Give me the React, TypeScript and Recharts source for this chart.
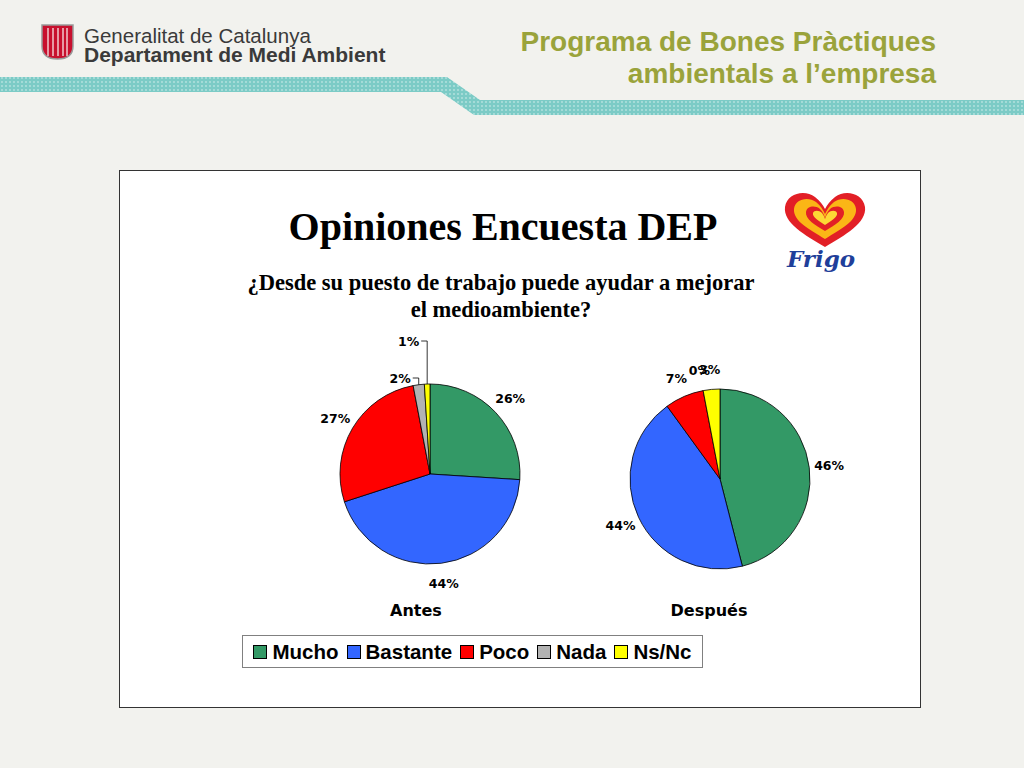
import React from "react";
import { Pie, PieChart, Cell } from "recharts";

const categories = ["Mucho", "Bastante", "Poco", "Nada", "Ns/Nc"];
const colors = ["#339966", "#3366FF", "#FF0000", "#B2B2B2", "#FFFF00"];
const antesValues = [26, 44, 27, 2, 1];
const despuesValues = [46, 44, 7, 0, 3];
const pieTitles = ["Antes", "Después"];

const antesData = categories.map((name, i) => ({ name, value: antesValues[i] }));
const despuesData = categories.map((name, i) => ({ name, value: despuesValues[i] }));

const RAD = Math.PI / 180;
const labelFont = "'DejaVu Sans', Verdana, sans-serif";

function renderLabel(props: any) {
  const { cx, cy, midAngle, outerRadius, percent, value, index } = props;
  const cos = Math.cos(-midAngle * RAD);
  const sin = Math.sin(-midAngle * RAD);
  if (value > 0 && percent < 0.025) {
    // tiny slices: label pulled up with a leader line
    const sx = cx + outerRadius * cos;
    const sy = cy + outerRadius * sin;
    const rise = percent < 0.015 ? 43 : 6;
    const ey = cy - outerRadius - rise;
    const ex = sx - 6;
    return (
      <g key={`l-${index}`}>
        <polyline
          points={`${sx},${sy} ${sx},${ey} ${ex},${ey}`}
          fill="none"
          stroke="#000"
          strokeWidth={0.8}
        />
        <text
          x={ex - 2}
          y={ey}
          textAnchor="end"
          dominantBaseline="central"
          fontFamily={labelFont}
          fontWeight="bold"
          fontSize={12.5}
          fill="#000"
        >
          {value}%
        </text>
      </g>
    );
  }
  const r = outerRadius + 20;
  return (
    <text
      key={`l-${index}`}
      x={cx + r * cos}
      y={cy + r * sin}
      textAnchor="middle"
      dominantBaseline="central"
      fontFamily={labelFont}
      fontWeight="bold"
      fontSize={12.5}
      fill="#000"
    >
      {value}%
    </text>
  );
}

function Header() {
  return (
    <svg width={1024} height={130} style={{ position: "absolute", left: 0, top: 0 }}>
      <defs>
        <pattern id="dots" width="4" height="4" patternUnits="userSpaceOnUse">
          <rect width="4" height="4" fill="#7CCBC6" />
          <circle cx="2" cy="2" r="0.9" fill="#B8E3E0" />
        </pattern>
      </defs>
      <polygon
        points="0,77 447,77 480,100 1024,100 1024,115 474,115 441,92 0,92"
        fill="url(#dots)"
      />
      {/* Generalitat logo */}
      <path
        d="M42 25 H73 V46 Q73 59 57.5 59 Q42 59 42 46 Z"
        fill="#C8102E"
        stroke="#9A9A9A"
        strokeWidth={1.5}
      />
      {[48, 53, 58, 63, 67].map((x) => (
        <line key={x} x1={x} y1={28} x2={x} y2={56} stroke="#F1C9CE" strokeWidth={1.5} />
      ))}
      <text x={84} y={43} fontFamily="'Liberation Sans', Arial, sans-serif" fontSize={20.5} fill="#3a3a3a">
        Generalitat de Catalunya
      </text>
      <text x={84} y={62} fontFamily="'Liberation Sans', Arial, sans-serif" fontSize={21} fontWeight="bold" fill="#3a3a3a">
        Departament de Medi Ambient
      </text>
      <text
        x={936}
        y={51}
        textAnchor="end"
        fontFamily="'Liberation Sans', Arial, sans-serif"
        fontSize={28}
        fontWeight="bold"
        fill="#9AA33B"
      >
        Programa de Bones Pràctiques
      </text>
      <text
        x={936}
        y={83}
        textAnchor="end"
        fontFamily="'Liberation Sans', Arial, sans-serif"
        fontSize={28}
        fontWeight="bold"
        fill="#9AA33B"
      >
        ambientals a l’empresa
      </text>
    </svg>
  );
}

function FrigoLogo() {
  return (
    <svg width={100} height={95} style={{ position: "absolute", left: 655, top: 14 }}>
      <path
        d="M50 62 C30 50 8 38 10 22 C12 8 30 4 40 12 C45 16 48 20 50 24 C52 20 55 16 60 12 C70 4 88 8 90 22 C92 38 70 50 50 62 Z"
        fill="#E21F26"
      />
      <path
        d="M50 54 C34 44 18 36 19 24 C20 14 33 11 41 17 C46 21 48 25 50 29 C52 25 54 21 59 17 C67 11 80 14 81 24 C82 36 66 44 50 54 Z"
        fill="#FBB616"
      />
      <path
        d="M50 46 C40 40 30 34 31 27 C32 21 40 20 45 24 C48 27 49 30 50 33 C51 30 52 27 55 24 C60 20 68 21 69 27 C70 34 60 40 50 46 Z"
        fill="#E21F26"
      />
      <path
        d="M50 40 C44 36 37 32 38 28 C39 25 44 25 47 28 C48.5 30 49.5 32 50 34 C50.5 32 51.5 30 53 28 C56 25 61 25 62 28 C63 32 56 36 50 40 Z"
        fill="#FDD835"
      />
      <text
        x={46}
        y={82}
        textAnchor="middle"
        fontFamily="'DejaVu Serif', serif"
        fontStyle="italic"
        fontWeight="bold"
        fontSize={23}
        fill="#1F3F9A"
      >
        Frigo
      </text>
    </svg>
  );
}

export default function App() {
  return (
    <div
      style={{
        position: "fixed",
        left: 0,
        top: 0,
        width: 1024,
        height: 768,
        background: "#F2F2EE",
        overflow: "hidden",
      }}
    >
      <Header />
      <div
        style={{
          position: "absolute",
          left: 119,
          top: 170,
          width: 800,
          height: 536,
          background: "#fff",
          border: "1px solid #333",
        }}
      >
        <FrigoLogo />
        <div
          style={{
            position: "absolute",
            left: 0,
            top: 33,
            width: 766,
            textAlign: "center",
            fontFamily: "'Liberation Serif', 'Times New Roman', serif",
            fontWeight: "bold",
            fontSize: 40,
            lineHeight: "46px",
            color: "#000",
          }}
        >
          Opiniones Encuesta DEP
        </div>
        <div
          style={{
            position: "absolute",
            left: 0,
            top: 98,
            width: 762,
            textAlign: "center",
            fontFamily: "'Liberation Serif', 'Times New Roman', serif",
            fontWeight: "bold",
            fontSize: 22.5,
            lineHeight: "27px",
            color: "#000",
          }}
        >
          ¿Desde su puesto de trabajo puede ayudar a mejorar
          <br />
          el medioambiente?
        </div>
        <PieChart width={800} height={440} style={{ position: "absolute", left: 0, top: 0 }}>
          <Pie
            data={antesData}
            dataKey="value"
            nameKey="name"
            cx={305}
            cy={298}
            outerRadius={90}
            startAngle={90}
            endAngle={-270}
            stroke="#000"
            strokeWidth={0.8}
            label={renderLabel}
            labelLine={false}
            isAnimationActive={false}
          >
            {antesData.map((d, i) => (
              <Cell key={d.name} fill={colors[i]} />
            ))}
          </Pie>
          <Pie
            data={despuesData}
            dataKey="value"
            nameKey="name"
            cx={595}
            cy={303}
            outerRadius={90}
            startAngle={90}
            endAngle={-270}
            stroke="#000"
            strokeWidth={0.8}
            label={renderLabel}
            labelLine={false}
            isAnimationActive={false}
          >
            {despuesData.map((d, i) => (
              <Cell key={d.name} fill={colors[i]} />
            ))}
          </Pie>
        </PieChart>
        {pieTitles.map((t, i) => (
          <div
            key={t}
            style={{
              position: "absolute",
              left: i === 0 ? 246 : 539,
              top: 430,
              width: 100,
              textAlign: "center",
              fontFamily: labelFont,
              fontWeight: "bold",
              fontSize: 16,
              color: "#000",
            }}
          >
            {t}
          </div>
        ))}
        <div
          style={{
            position: "absolute",
            left: 122,
            top: 464,
            height: 31,
            width: 459,
            border: "1px solid #808080",
            display: "flex",
            alignItems: "center",
            justifyContent: "center",
            gap: 8,
            fontFamily: "'Liberation Sans', Arial, sans-serif",
            fontWeight: "bold",
            fontSize: 20.5,
            color: "#000",
          }}
        >
          {categories.map((c, i) => (
            <div key={c} style={{ display: "flex", alignItems: "center", gap: 5 }}>
              <span
                style={{
                  display: "inline-block",
                  width: 12,
                  height: 12,
                  background: colors[i],
                  border: "1px solid #000",
                }}
              />
              <span>{c}</span>
            </div>
          ))}
        </div>
      </div>
    </div>
  );
}
